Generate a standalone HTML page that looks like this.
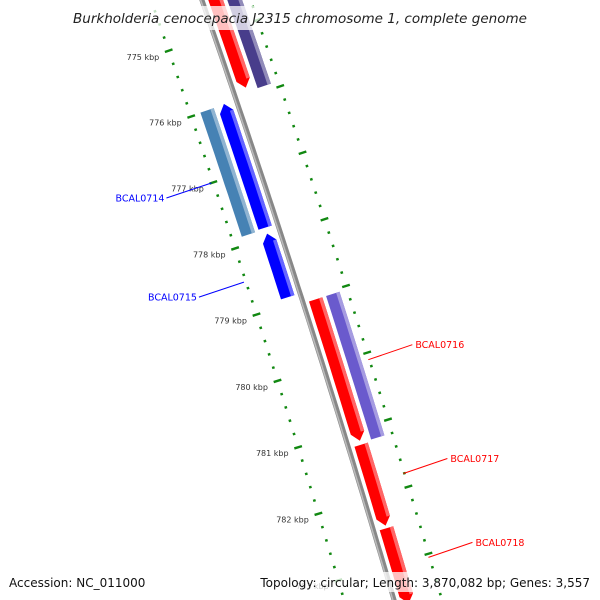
<!DOCTYPE html>
<html><head><meta charset="utf-8"><style>
html,body{margin:0;padding:0;background:#fff;overflow:hidden}
svg{display:block;font-family:"DejaVu Sans","Liberation Sans",sans-serif}
</style></head><body>
<svg id="map" width="600" height="600" viewBox="0 0 600 600" xmlns="http://www.w3.org/2000/svg" style="overflow:hidden">
<g id="rulers"></g>
<g id="backbone"></g>
<g id="features"></g>
<g id="labels"></g>
<rect x="68" y="6" width="466" height="24" fill="#fff" opacity="0.75"/>
<text x="300" y="23" text-anchor="middle" font-size="13.5" font-style="italic" fill="#222">Burkholderia cenocepacia J2315 chromosome 1, complete genome</text>
<rect x="258" y="572" width="336" height="20" fill="#fff" opacity="0.75"/>
<text x="9" y="587" font-size="12" fill="#111">Accession: NC_011000</text>
<text x="590" y="587" text-anchor="end" font-size="12" fill="#111">Topology: circular; Length: 3,870,082 bp; Genes: 3,557</text>
</svg>
<script>
const tickKbp = [775,776,777,778,779,780,781,782,783];
const tickLabels = ["775 kbp","776 kbp","777 kbp","778 kbp","779 kbp","780 kbp","781 kbp","782 kbp","783 kbp"];
const featStart = [774.5, 774.5, 775.98, 775.99, 777.94, 779.05, 779.05, 781.23, 782.48];
const featEnd   = [775.86, 775.92, 777.85, 777.87, 778.90, 781.17, 781.20, 782.44, 783.6];
const featStrand= [1, 0, -1, 0, -1, 1, 0, 1, 1];
const featTrack = [13, 31, -13, -31, -13, 13, 31, 13, 13];
const featColor = ["#ff0000","#483d8b","#0000ff","#4682b4","#0000ff","#ff0000","#6a5acd","#ff0000","#ff0000"];
const geneNames = ["BCAL0714","BCAL0715","BCAL0716","BCAL0717","BCAL0718"];
const geneKbp   = [777.0, 778.5, 780.1, 781.8, 783.05];
const geneColor = ["#0000ff","#0000ff","#ff0000","#ff0000","#ff0000"];
const geneSide  = [-1,-1,1,1,1];

const NS="http://www.w3.org/2000/svg";
const CX=-11473, CY=4070, R0=12364;
const th776 = Math.atan2(103-CY, 231-CX);
const dth = 69.8/R0;
function P(k,r){const t=th776+(k-776)*dth;const rr=R0+r;return [CX+rr*Math.cos(t), CY+rr*Math.sin(t)];}
function mk(tag,attrs,parent){const e=document.createElementNS(NS,tag);for(const a in attrs)e.setAttribute(a,attrs[a]);parent.appendChild(e);return e;}
function arcPts(k1,k2,r){const n=Math.max(2,Math.ceil(Math.abs(k2-k1)*6));const o=[];for(let i=0;i<=n;i++)o.push(P(k1+(k2-k1)*i/n,r));return o;}
const ps=a=>a.map(p=>p[0].toFixed(1)+","+p[1].toFixed(1)).join(" ");

const bb=document.getElementById('backbone');
let e=mk('polyline',{points:ps(arcPts(773.8,783.8,0)),fill:'none',stroke:'#888','stroke-width':5},bb);


e=mk('polyline',{points:ps(arcPts(773.8,783.8,-1.2)),fill:'none',stroke:'#bbb','stroke-width':1.5},bb);



const ru=document.getElementById('rulers');
for(let k=773.8;k<=783.81;k+=0.2){
  const major=Math.abs(k-Math.round(k))<0.01;
  [[-48,-1],[46,1]].forEach(([r,s])=>{
    const a=P(k,r-(major?4:1.3)), b=P(k,r+(major?4:1.3));
    const l=mk('line',{x1:a[0],y1:a[1],x2:b[0],y2:b[1],stroke:'#118811','stroke-width':2.4},ru);
    
    
  });
}
tickKbp.forEach((k,i)=>{
  const p=P(k,-58);
  const t=mk('text',{x:p[0],y:p[1]+6,'text-anchor':'end','font-size':8,fill:'#333'},ru);
  t.textContent=tickLabels[i];
  
  
});

const fg=document.getElementById('features');
const W=14, HEAD=0.12;
function lighten(c){const n=parseInt(c.slice(1),16);let r=n>>16,g=(n>>8)&255,b=n&255;const f=x=>Math.round(x+(255-x)*0.4);return `rgb(${f(r)},${f(g)},${f(b)})`;}
featStart.forEach((s,i)=>{
  const en=featEnd[i], r=featTrack[i], st=featStrand[i];
  let a=s, b=en;
  if(st===1) b=en-HEAD; if(st===-1) a=s+HEAD;
  let pts=[...arcPts(a,b,r-W/2)];
  if(st===1) pts.push(P(en,r));
  pts=pts.concat(arcPts(a,b,r+W/2).reverse());
  if(st===-1) pts.push(P(s,r));
  const g=mk('g',{},fg);
  
  
  mk('polygon',{points:ps(pts),fill:featColor[i]},g);
  const hl=[...arcPts(a,b,r+W/2-3.5),...arcPts(a,b,r+W/2).reverse()];
  mk('polygon',{points:ps(hl),fill:lighten(featColor[i])},g);
});

const lg=document.getElementById('labels');
geneNames.forEach((n,i)=>{
  const side=geneSide[i];
  const a=P(geneKbp[i], side<0?-50:45);
  const b=side<0?[a[0]-45,a[1]+15]:[a[0]+44,a[1]-15];
  const l=mk('line',{x1:a[0],y1:a[1],x2:b[0],y2:b[1],stroke:geneColor[i],'stroke-width':1},lg);
  
  
  const t=mk('text',{x:b[0]+(side<0?-2:3),y:b[1]+3.5,'text-anchor':side<0?'end':'start','font-size':9.5,fill:geneColor[i]},lg);
  t.textContent=n;
  
  
});
</script>
</body></html>
